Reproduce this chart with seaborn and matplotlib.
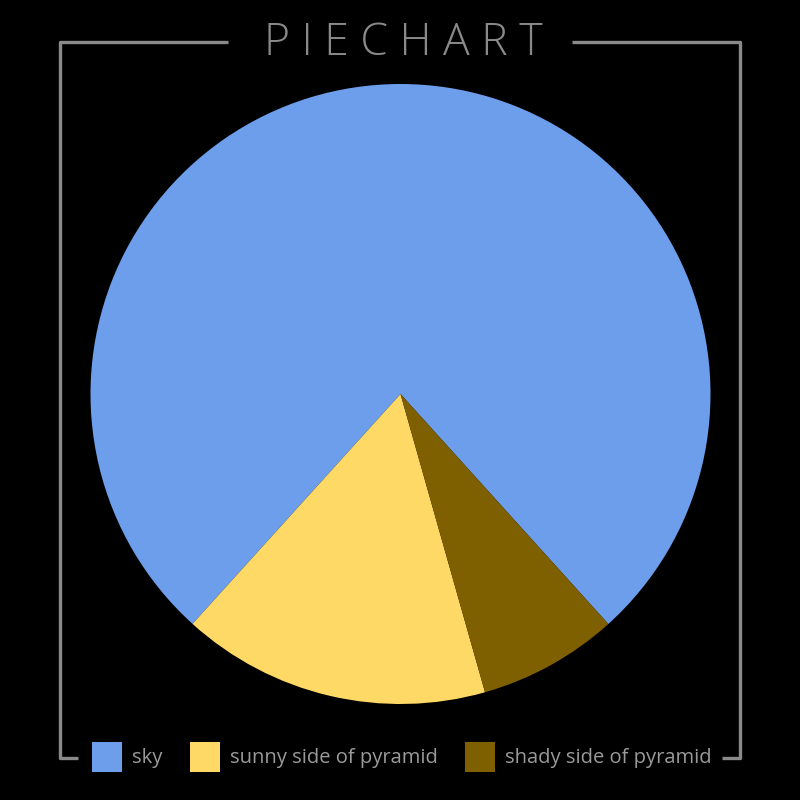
import matplotlib
matplotlib.use("Agg")
import matplotlib.pyplot as plt
import seaborn as sns

labels = ["sky", "sunny side of pyramid", "shady side of pyramid"]
values = [76.6, 16.1, 7.3]
colors = ["#6D9EEB", "#FFD966", "#7F6000"]
title = "PIECHART"

sns.set_style("dark", {"axes.facecolor": "black", "figure.facecolor": "black"})
plt.rcParams["font.family"] = ["Open Sans", "DejaVu Sans"]

palette = sns.color_palette(colors)

fig = plt.figure(figsize=(8, 8), dpi=100, facecolor="black")
ax = fig.add_axes([0, 0, 1, 1])
ax.set_facecolor("black")

wedges, _ = ax.pie(values, colors=palette, startangle=-47.9, counterclock=True,
                   center=(400.5, 406), radius=310,
                   wedgeprops=dict(linewidth=0, edgecolor="none"))
ax.set_xlim(0, 800)
ax.set_ylim(0, 800)
ax.set_aspect("equal")
ax.axis("off")

fc = "#8a8a8a"
lw = 2.4
# frame
ax.plot([228, 60, 60, 78], [758, 758, 42, 42], color=fc, lw=lw, solid_capstyle="butt")
ax.plot([572, 740, 740, 722], [758, 758, 42, 42], color=fc, lw=lw, solid_capstyle="butt")

ax.text(403, 745, " ".join(title), ha="center", va="baseline", color=fc,
        fontsize=32, fontweight="light")

leg = ax.legend(wedges, labels, loc="center", bbox_to_anchor=(402 / 800, 43 / 800),
                bbox_transform=fig.transFigure, ncol=3, frameon=False,
                fontsize=14.5, labelcolor="#9a9a9a", handlelength=1.49,
                handleheight=1.92, handletextpad=0.5, columnspacing=1.35,
                borderpad=0, borderaxespad=0)

fig.savefig("out.png", dpi=100, facecolor="black")
